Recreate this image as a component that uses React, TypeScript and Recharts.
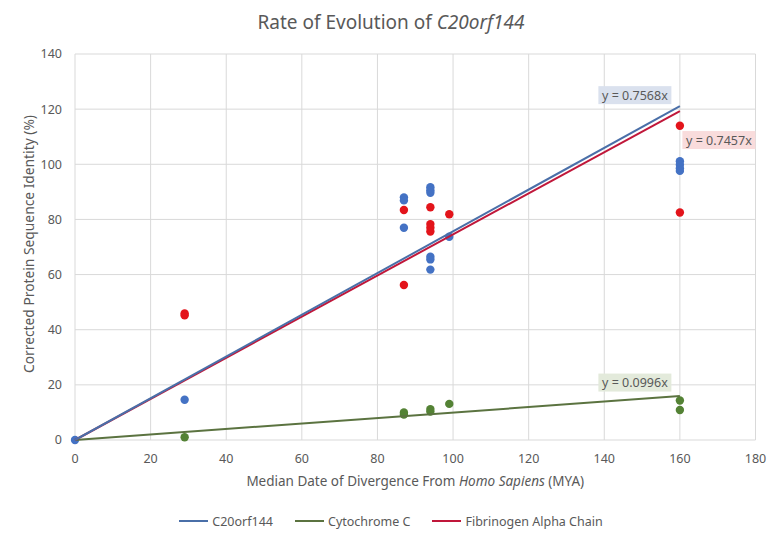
import React from 'react';
import { ScatterChart, Scatter, XAxis, YAxis, CartesianGrid, ReferenceDot, Label } from 'recharts';

const xTicks = [0, 20, 40, 60, 80, 100, 120, 140, 160, 180];
const yTicks = [0, 20, 40, 60, 80, 100, 120, 140];

const c20Points = [
  { x: 0, y: 0 },
  { x: 29, y: 14.6 },
  { x: 87, y: 88.0 },
  { x: 87, y: 86.9 },
  { x: 87, y: 77.0 },
  { x: 94, y: 91.7 },
  { x: 94, y: 90.6 },
  { x: 94, y: 89.7 },
  { x: 94, y: 66.5 },
  { x: 94, y: 65.5 },
  { x: 94, y: 61.8 },
  { x: 99, y: 73.7 },
  { x: 160, y: 101.1 },
  { x: 160, y: 99.8 },
  { x: 160, y: 98.6 },
  { x: 160, y: 97.6 },
];

const cytPoints = [
  { x: 29, y: 1.0 },
  { x: 87, y: 10.0 },
  { x: 87, y: 9.2 },
  { x: 94, y: 11.2 },
  { x: 94, y: 10.3 },
  { x: 99, y: 13.1 },
  { x: 160, y: 14.3 },
  { x: 160, y: 10.9 },
];

const fibPoints = [
  { x: 29, y: 45.9 },
  { x: 29, y: 45.2 },
  { x: 87, y: 83.4 },
  { x: 87, y: 56.2 },
  { x: 94, y: 84.4 },
  { x: 94, y: 78.3 },
  { x: 94, y: 77.0 },
  { x: 94, y: 75.6 },
  { x: 99, y: 81.9 },
  { x: 160, y: 114.0 },
  { x: 160, y: 82.5 },
];

const seriesNames = ['C20orf144', 'Cytochrome C', 'Fibrinogen Alpha Chain'];
const trendSlopes = [0.7568, 0.0996, 0.7457];
const trendRange = [0, 160];

const dotColors = ['#4472C4', '#548235', '#E3141B'];
const lineColors = ['#4A6FA8', '#5B7340', '#C0173A'];
const boxColors = ['#DAE1EE', '#E3EADB', '#F9DCDC'];
const boxOffsets = [
  { dx: -45, dy: -11 },
  { dx: -45, dy: -13.5 },
  { dx: 39, dy: 29 },
];

const FONT = '"Noto Sans", "Open Sans", sans-serif';
const TEXT = '#595959';

const trendData = trendSlopes.map((s) => trendRange.map((x) => ({ x, y: s * x })));

const EqBox = (props: any) => {
  const { cx, cy, dx, dy, fill, text } = props;
  const w = 73;
  const h = 18;
  const x = cx + dx;
  const y = cy + dy;
  return (
    <g>
      <rect x={x - w / 2} y={y - h / 2} width={w} height={h} fill={fill} />
      <text x={x} y={y} textAnchor="middle" dominantBaseline="central" fill={TEXT} fontFamily={FONT} fontSize={12.5}>
        {text}
      </text>
    </g>
  );
};

export default function App() {
  return (
    <div style={{ position: 'absolute', left: 0, top: 0, width: 782, height: 543, background: '#fff', fontFamily: FONT }}>
      <div
        style={{
          position: 'absolute',
          left: 0,
          top: 10,
          width: 782,
          textAlign: 'center',
          fontSize: 19,
          color: TEXT,
          lineHeight: '24px',
        }}
      >
        Rate of Evolution of <i>C20orf144</i>
      </div>
      <ScatterChart width={782} height={543} margin={{ top: 54, right: 26.5, bottom: 73, left: 0 }}>
        <CartesianGrid stroke="#D9D9D9" horizontalValues={yTicks} verticalValues={xTicks} strokeWidth={1} />
        <XAxis
          type="number"
          dataKey="x"
          domain={[0, 180]}
          ticks={xTicks}
          tickLine={false}
          axisLine={false}
          tickMargin={8}
          height={30}
          tick={{ fill: TEXT, fontSize: 12.5, fontFamily: FONT }}
          interval={0}
        >
          <Label
            content={(p: any) => {
              const vb = p.viewBox;
              return (
                <text x={vb.x + vb.width / 2} y={vb.y + 46} textAnchor="middle" fill={TEXT} fontFamily={FONT} fontSize={13.5}>
                  Median Date of Divergence From <tspan fontStyle="italic">Homo Sapiens</tspan> (MYA)
                </text>
              );
            }}
          />
        </XAxis>
        <YAxis
          type="number"
          dataKey="y"
          domain={[0, 140]}
          ticks={yTicks}
          tickLine={false}
          axisLine={false}
          tickMargin={7}
          width={75}
          tick={{ fill: TEXT, fontSize: 12.5, fontFamily: FONT }}
          interval={0}
        >
          <Label
            content={(p: any) => {
              const vb = p.viewBox;
              const cy = vb.y + vb.height / 2 - 3;
              return (
                <text
                  x={0}
                  y={0}
                  transform={`translate(34, ${cy}) rotate(-90)`}
                  textAnchor="middle"
                  fill={TEXT}
                  fontFamily={FONT}
                  fontSize={13.8}
                >
                  Corrected Protein Sequence Identity (%)
                </text>
              );
            }}
          />
        </YAxis>
        <Scatter name={seriesNames[1]} data={cytPoints} fill={dotColors[1]} isAnimationActive={false} shape={(p: any) => <circle cx={p.cx} cy={p.cy} r={4.2} fill={dotColors[1]} />} />
        <Scatter name={seriesNames[2]} data={fibPoints} fill={dotColors[2]} isAnimationActive={false} shape={(p: any) => <circle cx={p.cx} cy={p.cy} r={4.2} fill={dotColors[2]} />} />
        <Scatter name={seriesNames[0]} data={c20Points} fill={dotColors[0]} isAnimationActive={false} shape={(p: any) => <circle cx={p.cx} cy={p.cy} r={4.2} fill={dotColors[0]} />} />
        {[1, 2, 0].map((i) => (
          <Scatter
            key={'t' + i}
            name={seriesNames[i] + ' trend'}
            data={trendData[i]}
            line={{ stroke: lineColors[i], strokeWidth: 2 }}
            lineType="joint"
            shape={() => <g />}
            legendType="none"
            isAnimationActive={false}
          />
        ))}
        {[0, 1, 2].map((i) => (
          <ReferenceDot
            key={'eq' + i}
            x={trendRange[1]}
            y={trendSlopes[i] * trendRange[1]}
            r={0}
            ifOverflow="visible"
            shape={(p: any) => (
              <EqBox
                cx={p.cx}
                cy={p.cy}
                dx={boxOffsets[i].dx}
                dy={boxOffsets[i].dy}
                fill={boxColors[i]}
                text={`y = ${trendSlopes[i]}x`}
              />
            )}
          />
        ))}
      </ScatterChart>
      <div
        style={{
          position: 'absolute',
          left: 0,
          top: 512,
          width: 782,
          height: 18,
          display: 'flex',
          justifyContent: 'center',
          alignItems: 'center',
          fontSize: 12.5,
          color: TEXT,
        }}
      >
        {seriesNames.map((n, i) => (
          <div key={n} style={{ display: 'flex', alignItems: 'center', marginLeft: i === 0 ? 0 : 22 }}>
            <div style={{ width: 29, height: 2, background: lineColors[i], marginRight: 4 }} />
            <span>{n}</span>
          </div>
        ))}
      </div>
    </div>
  );
}
